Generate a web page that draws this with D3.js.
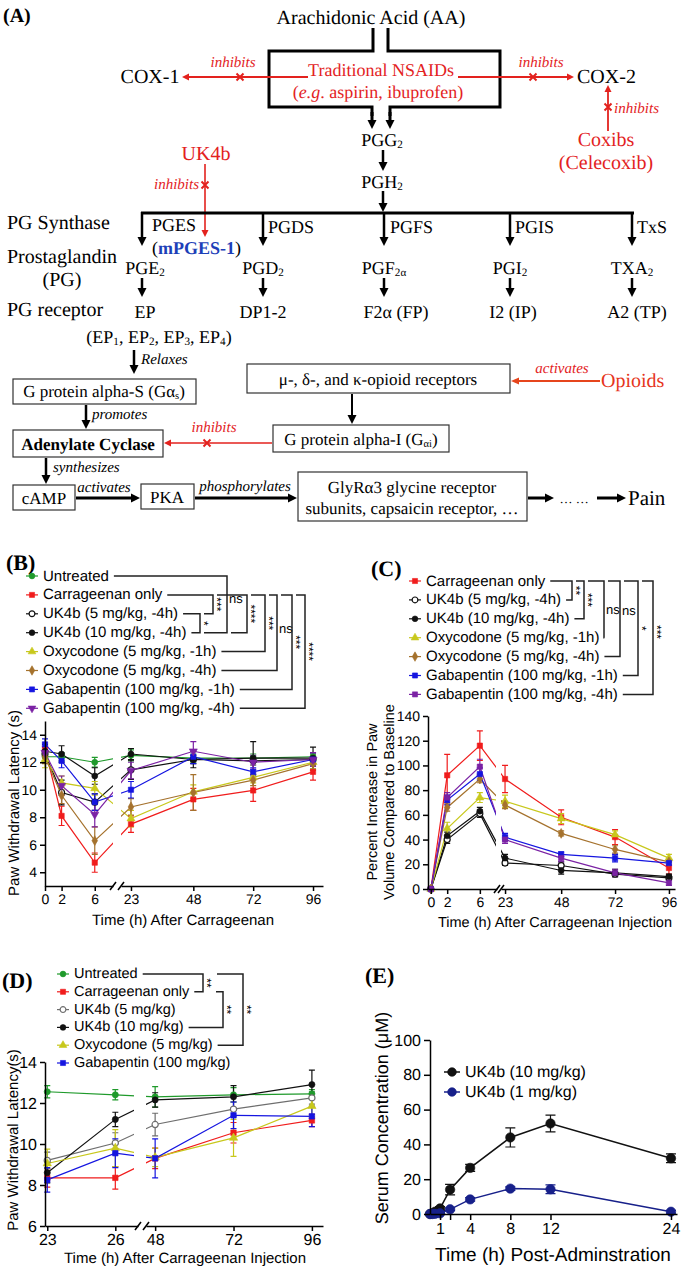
<!DOCTYPE html>
<html>
<head>
<meta charset="utf-8">
<script src="https://cdn.jsdelivr.net/npm/d3@7"></script>
<style>
  body { margin: 0; background: #fff; }
  text { text-rendering: geometricPrecision; }
</style>
</head>
<body>
<svg id="fig" width="685" height="1271"></svg>
<script>
// ---------- data ----------
// (B) paw withdrawal latency, 0-96 h
const timesB = [0, 2, 6, 23, 48, 72, 96];
const xTicksB1 = [0, 2, 6];
const xTicksB2 = [23, 48, 72, 96];
const yTicksB = [4, 6, 8, 10, 12, 14];
const namesB = ["Untreated", "Carrageenan only", "UK4b (5 mg/kg, -4h)", "UK4b (10 mg/kg, -4h)",
  "Oxycodone (5 mg/kg, -1h)", "Oxycodone (5 mg/kg, -4h)", "Gabapentin (100 mg/kg, -1h)", "Gabapentin (100 mg/kg, -4h)"];
const untreatedB = [12.4, 12.4, 12.0, 12.5, 12.3, 12.3, 12.4];
const carrB = [13.0, 8.1, 4.7, 7.5, 9.3, 9.95, 11.3];
const uk5B = [12.6, 9.8, 9.1, 11.45, 12.2, 12.1, 12.2];
const uk10B = [12.8, 12.6, 11.0, 12.6, 12.2, 12.3, 12.3];
const oxy1B = [12.2, 10.5, 10.1, 7.9, 9.85, 10.9, 12.0];
const oxy4B = [12.4, 9.6, 6.3, 8.75, 9.8, 10.7, 11.9];
const gaba1B = [13.3, 12.1, 9.1, 10.0, 12.4, 11.3, 12.2];
const gaba4B = [12.7, 10.3, 8.2, 11.4, 12.8, 12.0, 12.2];
const errB = [
  [0.3, 0.3, 0.35, 0.4, 0.3, 0.3, 0.3],
  [0.4, 0.7, 0.7, 0.6, 0.8, 0.8, 0.6],
  [0.5, 0.9, 0.6, 0.7, 0.3, 0.3, 0.4],
  [0.5, 0.6, 0.6, 0.4, 0.6, 1.2, 0.8],
  [0.6, 0.5, 0.5, 0.6, 0.5, 0.4, 0.5],
  [0.5, 0.6, 1.0, 0.6, 1.3, 0.4, 0.5],
  [0.4, 0.5, 0.6, 0.6, 0.5, 0.3, 0.5],
  [0.4, 0.7, 0.9, 0.6, 0.7, 0.5, 0.5]
];

// (C) percent increase in paw volume
const timesC = [0, 2, 6, 23, 48, 72, 96];
const xTicksC1 = [0, 2, 6];
const xTicksC2 = [23, 48, 72, 96];
const yTicksC = [0, 20, 40, 60, 80, 100, 120, 140];
const namesC = ["Carrageenan only", "UK4b (5 mg/kg, -4h)", "UK4b (10 mg/kg, -4h)", "Oxycodone (5 mg/kg, -1h)",
  "Oxycodone (5 mg/kg, -4h)", "Gabapentin (100 mg/kg, -1h)", "Gabapentin (100 mg/kg, -4h)"];
const carrC = [0, 92, 116, 89, 58, 42, 17];
const uk5C = [0, 40, 61, 21, 19, 12, 9];
const uk10C = [0, 43, 63, 25, 15, 13, 10];
const oxy1C = [0, 49, 74, 71, 57, 44, 25];
const oxy4C = [0, 66, 89, 68, 45, 32, 22];
const gaba1C = [0, 72, 93, 42, 28, 25, 21];
const gaba4C = [0, 74, 99, 40, 25, 13, 5];
const errC = [
  [0, 17, 12, 11, 6, 6, 5],
  [0, 3, 3, 2, 3, 2, 2],
  [0, 3, 3, 3, 3, 3, 2],
  [0, 5, 4, 5, 4, 3, 3],
  [0, 3, 3, 3, 2, 3, 2],
  [0, 4, 5, 3, 2, 3, 2],
  [0, 4, 6, 3, 3, 3, 2]
];

// (D) paw withdrawal latency, 23-96 h
const timesD = [23, 26, 48, 72, 96];
const xTicksD1 = [23, 26];
const xTicksD2 = [48, 72, 96];
const yTicksD = [6, 8, 10, 12, 14];
const namesD = ["Untreated", "Carrageenan only", "UK4b (5 mg/kg)", "UK4b (10 mg/kg)", "Oxycodone (5 mg/kg)", "Gabapentin (100 mg/kg)"];
const untreatedD = [12.55, 12.4, 12.3, 12.4, 12.45];
const carrD = [8.35, 8.35, 9.3, 10.55, 11.15];
const uk5D = [9.2, 10.05, 10.95, 11.7, 12.25];
const uk10D = [8.6, 11.2, 12.15, 12.3, 12.9];
const oxyD = [9.05, 9.8, 9.35, 10.3, 11.85];
const gabaD = [8.25, 9.55, 9.3, 11.4, 11.35];
const errD = [
  [0.3, 0.25, 0.5, 0.35, 0.2],
  [0.45, 0.55, 0.5, 0.5, 0.3],
  [0.4, 0.5, 0.55, 0.35, 0.3],
  [0.5, 0.35, 0.35, 0.55, 0.7],
  [0.7, 0.9, 0.45, 0.9, 0.5],
  [0.6, 0.7, 0.95, 0.65, 0.5]
];

// (E) serum concentration
const timesE = [0, 0.25, 0.5, 1, 2, 4, 8, 12, 24];
const xTicksE = [1, 2, 4, 8, 12, 24];
const xLabelsE = [1, 4, 8, 12, 24];
const yTicksE = [0, 20, 40, 60, 80, 100];
const namesE = ["UK4b (10 mg/kg)", "UK4b (1 mg/kg)"];
const uk10E = [0, 0.4, 1.3, 3.2, 14, 26.5, 44, 52, 32];
const uk1E = [0, 0, 0.1, 0.4, 2.7, 8.4, 14.6, 14.2, 1.3];
const errE = [
  [0, 0.3, 0.5, 1, 3, 2, 5.5, 4.8, 2.5],
  [0, 0, 0.2, 0.3, 0.8, 1, 1, 2.5, 0.8]
];

// ---------- helpers ----------
const SERIF = "'Liberation Serif', 'Times New Roman', serif";
const SANS = "'Liberation Sans', Arial, Helvetica, sans-serif";
const RED = "#e3221e";
const svg = d3.select("#fig");

// text with optional subscript / italic / bold pieces
function rich(g, x, y, parts, o = {}) {
  const size = o.size || 18;
  const t = g.append("text")
    .attr("x", x).attr("y", y)
    .attr("text-anchor", o.anchor || "middle")
    .attr("dominant-baseline", "central")
    .attr("font-family", o.family || SERIF)
    .attr("font-size", size)
    .attr("fill", o.fill || "#000");
  if (o.weight) t.attr("font-weight", o.weight);
  if (o.italic) t.attr("font-style", "italic");
  let shift = 0;
  parts.forEach(p => {
    if (typeof p === "string") p = { t: p };
    const s = t.append("tspan").text(p.t);
    const target = p.sub ? 0.3 * size : 0;
    if (target !== shift) { s.attr("dy", target - shift); shift = target; }
    if (p.sub) s.attr("font-size", 0.62 * size);
    if (p.italic) s.attr("font-style", "italic");
    if (p.bold) s.attr("font-weight", "bold");
    if (p.fill) s.attr("fill", p.fill);
  });
  return t;
}

function arrow(g, x1, y1, x2, y2, o = {}) {
  const c = o.color || "#000", w = o.width || 2.5, hl = o.head || 9, hw = o.hw || 4.5;
  const dx = x2 - x1, dy = y2 - y1, L = Math.hypot(dx, dy), ux = dx / L, uy = dy / L;
  const bx = x2 - ux * hl, by = y2 - uy * hl;
  g.append("line").attr("x1", x1).attr("y1", y1).attr("x2", bx + ux).attr("y2", by + uy)
    .attr("stroke", c).attr("stroke-width", w);
  g.append("path")
    .attr("d", `M${x2},${y2}L${bx - uy * hw},${by + ux * hw}L${bx + uy * hw},${by - ux * hw}Z`)
    .attr("fill", c);
}

function xmark(g, x, y, c = RED) {
  const r = 3.5;
  g.append("path").attr("d", `M${x - r},${y - r}L${x + r},${y + r}M${x - r},${y + r}L${x + r},${y - r}`)
    .attr("stroke", c).attr("stroke-width", 2);
}

function box(g, x, y, w, h) {
  g.append("rect").attr("x", x).attr("y", y).attr("width", w).attr("height", h)
    .attr("fill", "none").attr("stroke", "#333").attr("stroke-width", 1.2);
}

// ---------- (A) pathway diagram ----------
const A = svg.append("g");
rich(A, 3, 16, ["(A)"], { anchor: "start", size: 20, weight: "bold" });
rich(A, 371, 18, ["Arachidonic Acid (AA)"], { size: 20 });

A.append("path").attr("d", "M373,28V51H269V107H372V116").attr("fill", "none").attr("stroke", "#000").attr("stroke-width", 3);
A.append("path").attr("d", "M388,28V51H500V107H390V116").attr("fill", "none").attr("stroke", "#000").attr("stroke-width", 3);
arrow(A, 372, 112, 372, 129, { width: 3 });
arrow(A, 390, 112, 390, 129, { width: 3 });

rich(A, 381, 70, ["Traditional NSAIDs"], { size: 18, fill: RED });
rich(A, 378, 92, ["(", { t: "e.g", italic: true }, ". aspirin, ibuprofen)"], { size: 18, fill: RED });

arrow(A, 308, 77, 182, 77, { color: RED, width: 1.8, head: 7, hw: 3.5 });
xmark(A, 240, 77);
rich(A, 233, 63, ["inhibits"], { size: 15, italic: true, fill: RED });
rich(A, 150, 77, ["COX-1"], { size: 20 });

arrow(A, 458, 77, 574, 77, { color: RED, width: 1.8, head: 7, hw: 3.5 });
xmark(A, 533, 77);
rich(A, 541, 63, ["inhibits"], { size: 15, italic: true, fill: RED });
rich(A, 577, 77, ["COX-2"], { size: 20, anchor: "start" });

arrow(A, 608, 131, 608, 85, { color: RED, width: 1.8, head: 7, hw: 3.5 });
xmark(A, 608, 107);
rich(A, 614, 109, ["inhibits"], { size: 15, italic: true, fill: RED, anchor: "start" });
rich(A, 606, 140, ["Coxibs"], { size: 20, fill: RED });
rich(A, 606, 163, ["(Celecoxib)"], { size: 20, fill: RED });

rich(A, 382, 140, ["PGG", { t: "2", sub: true }], { size: 18 });
arrow(A, 383, 150, 383, 171, { width: 2.5 });
rich(A, 382, 182, ["PGH", { t: "2", sub: true }], { size: 18 });
arrow(A, 383, 191, 383, 212, { width: 2.5 });

rich(A, 206, 154, ["UK4b"], { size: 20, fill: RED });
arrow(A, 205, 164, 205, 237, { color: RED, width: 1.6, head: 7, hw: 3.5 });
xmark(A, 205, 185);
rich(A, 199, 185, ["inhibits"], { size: 15, italic: true, fill: RED, anchor: "end" });

A.append("line").attr("x1", 141).attr("x2", 634).attr("y1", 213).attr("y2", 213).attr("stroke", "#000").attr("stroke-width", 3);
const branchX = [142, 263, 384, 510, 632];
branchX.forEach(bx => arrow(A, bx, 212, bx, 246, { width: 2.5 }));
[["PGES", 152, 225], ["PGDS", 268, 227], ["PGFS", 390, 227], ["PGIS", 515, 227], ["TxS", 637, 227]]
  .forEach(d => rich(A, d[1], d[2], [d[0]], { size: 18, anchor: "start" }));
rich(A, 7, 223, ["PG Synthase"], { size: 20, anchor: "start" });
rich(A, 152, 248, ["(", { t: "mPGES-1", bold: true, fill: "#1d3fb8" }, ")"], { size: 18, anchor: "start" });

rich(A, 7, 257, ["Prostaglandin"], { size: 20, anchor: "start" });
rich(A, 62, 280, ["(PG)"], { size: 20 });
rich(A, 145, 268, ["PGE", { t: "2", sub: true }], { size: 18 });
rich(A, 263, 268, ["PGD", { t: "2", sub: true }], { size: 18 });
rich(A, 384, 268, ["PGF", { t: "2α", sub: true }], { size: 18 });
rich(A, 510, 268, ["PGI", { t: "2", sub: true }], { size: 18 });
rich(A, 632, 268, ["TXA", { t: "2", sub: true }], { size: 18 });
branchX.forEach(bx => arrow(A, bx, 278, bx, 297, { width: 2.5 }));

rich(A, 7, 310, ["PG receptor"], { size: 20, anchor: "start" });
[["EP", 145], ["DP1-2", 263], ["F2α (FP)", 396], ["I2 (IP)", 513], ["A2 (TP)", 637]]
  .forEach(d => rich(A, d[1], 312, [d[0]], { size: 18 }));
rich(A, 159, 337, ["(EP", { t: "1", sub: true }, ", EP", { t: "2", sub: true }, ", EP", { t: "3", sub: true }, ", EP", { t: "4", sub: true }, ")"], { size: 18 });

arrow(A, 134, 350, 134, 374, { width: 2.5 });
rich(A, 141, 360, ["Relaxes"], { size: 15, italic: true, anchor: "start" });
box(A, 13, 379, 183, 25);
rich(A, 104, 391, ["G protein alpha-S (Gα", { t: "s", sub: true }, ")"], { size: 17 });

box(A, 247, 364, 263, 29);
rich(A, 378, 379, ["μ-, δ-, and κ-opioid receptors"], { size: 17 });
arrow(A, 600, 381, 511, 381, { color: "#e6451c", width: 1.8, head: 8, hw: 3.5 });
rich(A, 562, 369, ["activates"], { size: 15, italic: true, fill: RED });
rich(A, 601, 381, ["Opioids"], { size: 20, fill: "#e6351c", anchor: "start" });

arrow(A, 86, 405, 86, 429, { width: 2.5 });
rich(A, 92, 415, ["promotes"], { size: 15, italic: true, anchor: "start" });
box(A, 13, 430, 150, 27);
rich(A, 88, 444, ["Adenylate Cyclase"], { size: 17, weight: "bold" });

arrow(A, 352, 394, 352, 424, { width: 2 });
box(A, 273, 425, 176, 27);
rich(A, 361, 439, ["G protein alpha-I (G", { t: "αi", sub: true }, ")"], { size: 17 });
arrow(A, 272, 443, 164, 443, { color: RED, width: 1.6, head: 7, hw: 3.5 });
xmark(A, 207, 443);
rich(A, 214, 428, ["inhibits"], { size: 15, italic: true, fill: RED });

arrow(A, 46, 458, 46, 484, { width: 2.5 });
rich(A, 53, 468, ["synthesizes"], { size: 15, italic: true, anchor: "start" });
box(A, 13, 485, 62, 25);
rich(A, 44, 498, ["cAMP"], { size: 17 });
arrow(A, 76, 498, 140, 498, { width: 3 });
rich(A, 104, 488, ["activates"], { size: 15, italic: true });
box(A, 141, 484, 53, 25);
rich(A, 167, 497, ["PKA"], { size: 17 });
arrow(A, 195, 498, 297, 498, { width: 3 });
rich(A, 245, 487, ["phosphorylates"], { size: 15, italic: true });
box(A, 298, 472, 229, 49);
rich(A, 412, 487, ["GlyRα3 glycine receptor"], { size: 17 });
rich(A, 412, 508, ["subunits, capsaicin receptor, …"], { size: 17 });
arrow(A, 528, 498, 554, 498, { width: 3 });
rich(A, 574, 498, ["… …"], { size: 13 });
arrow(A, 597, 498, 626, 498, { width: 3 });
rich(A, 628, 498, ["Pain"], { size: 21, anchor: "start" });

// ---------- chart helpers ----------
const GREEN = "#1f9a2b", CRED = "#f01c1c", BLK = "#111", YEL = "#c8c81c", BROWN = "#a5722d",
  BLUE = "#1515e0", PURPLE = "#7b22a4", GRAY = "#6e6e6e", NAVY = "#17208a";

const SYM = {
  circle: d3.symbolCircle, square: d3.symbolSquare, triangle: d3.symbolTriangle,
  diamond: d3.symbolDiamond, down: d3.symbolTriangle
};

function drawLines(g, series, times, x, y, lw) {
  series.forEach(s => {
    g.append("path")
      .datum(times.map((t, i) => [t, s.values[i]]))
      .attr("d", d3.line().x(d => x(d[0])).y(d => y(d[1])))
      .attr("fill", "none").attr("stroke", s.line || s.color).attr("stroke-width", lw);
  });
}

function drawPoints(g, series, times, x, y, size, cap) {
  series.forEach(s => {
    times.forEach((t, i) => {
      const e = s.err ? s.err[i] : 0;
      if (e > 0) {
        const cx = x(t), y0 = y(s.values[i] - e), y1 = y(s.values[i] + e);
        g.append("path")
          .attr("d", `M${cx},${y0}V${y1}M${cx - cap},${y0}H${cx + cap}M${cx - cap},${y1}H${cx + cap}`)
          .attr("stroke", s.color).attr("stroke-width", 1.2).attr("fill", "none");
      }
    });
  });
  series.forEach(s => {
    times.forEach((t, i) => marker(g, x(t), y(s.values[i]), s, size));
  });
}

function marker(g, cx, cy, s, size) {
  g.append("path")
    .attr("d", d3.symbol().type(SYM[s.sym]).size(size)())
    .attr("transform", `translate(${cx},${cy})` + (s.sym === "down" ? " rotate(180)" : ""))
    .attr("fill", s.open ? "#fff" : s.color)
    .attr("stroke", s.color).attr("stroke-width", s.open ? 1.2 : 0.6);
}

function styleAxis(a, fs) {
  a.select(".domain").attr("stroke", "#000").attr("stroke-width", 1.5);
  a.selectAll(".tick line").attr("stroke", "#000").attr("stroke-width", 1.5);
  a.selectAll("text").attr("font-family", SANS).attr("font-size", fs).attr("fill", "#000");
}

function brokenPlot(o) {
  const g = svg.append("g");
  const s1 = d3.scaleLinear().domain(o.x1dom).range(o.x1rng);
  const s2 = d3.scaleLinear().domain(o.x2dom).range(o.x2rng);
  const x = t => (t <= o.x1dom[1] ? s1(t) : s2(t));
  const y = d3.scaleLinear().domain(o.ydom).range(o.yrng);

  drawLines(g, o.series, o.times, x, y, 1.2);
  // gap in the lines over the axis break
  g.append("rect").attr("x", o.gap[0]).attr("width", o.gap[1] - o.gap[0])
    .attr("y", o.yrng[1]).attr("height", o.yrng[0] - o.yrng[1] - 1).attr("fill", "#fff");
  drawPoints(g, o.series, o.times, x, y, o.msize || 28, 3);

  const fmt = d3.format("d");
  const ya = g.append("g").attr("transform", `translate(${o.x1rng[0]},0)`)
    .call(d3.axisLeft(y).tickValues(o.yticks).tickFormat(fmt).tickSize(5).tickSizeOuter(0).tickPadding(3));
  const xa1 = g.append("g").attr("transform", `translate(0,${o.yrng[0]})`)
    .call(d3.axisBottom(s1).tickValues(o.xt1).tickFormat(fmt).tickSize(5).tickSizeOuter(0).tickPadding(3));
  const xa2 = g.append("g").attr("transform", `translate(0,${o.yrng[0]})`)
    .call(d3.axisBottom(s2).tickValues(o.xt2).tickFormat(fmt).tickSize(5).tickSizeOuter(0).tickPadding(3));
  [ya, xa1, xa2].forEach(a => styleAxis(a, o.fs));
  [o.x1rng[1], o.x2rng[0]].forEach(bx => {
    g.append("line").attr("x1", bx - 3).attr("y1", o.yrng[0] + 4).attr("x2", bx + 3).attr("y2", o.yrng[0] - 4)
      .attr("stroke", "#000").attr("stroke-width", 1.5);
  });

  g.append("text").attr("x", o.xlab[0]).attr("y", o.xlab[1]).attr("text-anchor", "middle")
    .attr("dominant-baseline", "central").attr("font-family", SANS).attr("font-size", o.labfs)
    .text(o.xlab[2]);
  o.ylab.forEach(l => {
    g.append("text").attr("transform", `translate(${l[0]},${l[1]}) rotate(-90)`)
      .attr("text-anchor", "middle").attr("dominant-baseline", "central")
      .attr("font-family", SANS).attr("font-size", o.labfs).text(l[2]);
  });
  return g;
}

function legend(g, mx, y0, dy, series, fs, msize) {
  const ends = [];
  series.forEach((s, i) => {
    const yy = y0 + i * dy;
    g.append("line").attr("x1", mx - 6).attr("x2", mx + 6).attr("y1", yy).attr("y2", yy)
      .attr("stroke", s.line || s.color).attr("stroke-width", 1.2);
    marker(g, mx, yy, s, msize);
    const t = g.append("text").attr("x", mx + 11).attr("y", yy).attr("dominant-baseline", "central")
      .attr("font-family", SANS).attr("font-size", fs).attr("fill", "#000").text(s.name);
    ends.push(mx + 11 + t.node().getComputedTextLength());
  });
  return ends;
}

function brackets(g, rowsY, ends, list) {
  const startFor = (row, bx) => {
    const prev = list.filter(b => (b.a === row || b.b === row) && b.x < bx).map(b => b.x);
    return prev.length ? d3.max(prev) + 4 : ends[row] + 5;
  };
  list.forEach(b => {
    const ya = rowsY[b.a], yb = rowsY[b.b];
    const sa = b.sa != null ? b.sa : startFor(b.a, b.x);
    const sb = b.sb != null ? b.sb : startFor(b.b, b.x);
    g.append("path").attr("d", `M${sa},${ya}H${b.x}V${yb}H${sb}`)
      .attr("fill", "none").attr("stroke", "#222").attr("stroke-width", 1.5);
    const ly = b.ly != null ? b.ly : (ya + yb) / 2;
    if (b.label[0] === "*") {
      g.append("text").attr("transform", `translate(${b.x + 4},${ly}) rotate(90)`)
        .attr("text-anchor", "middle").attr("dominant-baseline", "central")
        .attr("font-family", SANS).attr("font-size", 12).attr("fill", "#000").text(b.label);
    } else {
      g.append("text").attr("x", b.x + 2).attr("y", ly).attr("dominant-baseline", "central")
        .attr("font-family", SANS).attr("font-size", 13).attr("fill", "#000").text(b.label);
    }
  });
}

function panelTag(x, y, s) {
  rich(svg, x, y, [s], { anchor: "start", size: 22, weight: "bold" });
}

// ---------- (B) ----------
const seriesB = [
  { name: namesB[0], values: untreatedB, err: errB[0], color: GREEN, sym: "circle" },
  { name: namesB[1], values: carrB, err: errB[1], color: CRED, sym: "square" },
  { name: namesB[2], values: uk5B, err: errB[2], color: BLK, sym: "circle", open: true },
  { name: namesB[3], values: uk10B, err: errB[3], color: BLK, sym: "circle" },
  { name: namesB[4], values: oxy1B, err: errB[4], color: YEL, sym: "triangle" },
  { name: namesB[5], values: oxy4B, err: errB[5], color: BROWN, sym: "diamond" },
  { name: namesB[6], values: gaba1B, err: errB[6], color: BLUE, sym: "square" },
  { name: namesB[7], values: gaba4B, err: errB[7], color: PURPLE, sym: "down" }
];
panelTag(6, 562, "(B)");
brokenPlot({
  series: seriesB, times: timesB,
  x1dom: [0, 8.2], x1rng: [45, 113], x2dom: [19, 100], x2rng: [121, 323], gap: [113, 121],
  ydom: [3, 15], yrng: [886, 721], yticks: yTicksB, xt1: xTicksB1, xt2: xTicksB2, fs: 14,
  xlab: [183, 920, "Time (h) After Carrageenan"], ylab: [[14, 803, "Paw Withdrawal Latency (s)"]], labfs: 15
});
const gB = svg.append("g");
const rowsB = namesB.map((_, i) => 576 + i * 18.9);
const endsB = legend(gB, 32, 576, 18.9, seriesB, 15, 26);
brackets(gB, rowsB, endsB, [
  { a: 1, b: 2, x: 213, label: "***" },
  { a: 2, b: 3, x: 200, label: "*" },
  { a: 0, b: 3, x: 227, label: "ns", ly: 598 },
  { a: 1, b: 3, x: 247, label: "****" },
  { a: 1, b: 4, x: 265, label: "***" },
  { a: 1, b: 5, x: 277, label: "ns", ly: 628 },
  { a: 1, b: 6, x: 292, label: "***" },
  { a: 1, b: 7, x: 305, label: "****" }
]);

// ---------- (C) ----------
const seriesC = [
  { name: namesC[0], values: carrC, err: errC[0], color: CRED, sym: "square" },
  { name: namesC[1], values: uk5C, err: errC[1], color: BLK, sym: "circle", open: true },
  { name: namesC[2], values: uk10C, err: errC[2], color: BLK, sym: "circle" },
  { name: namesC[3], values: oxy1C, err: errC[3], color: YEL, sym: "triangle" },
  { name: namesC[4], values: oxy4C, err: errC[4], color: BROWN, sym: "diamond" },
  { name: namesC[5], values: gaba1C, err: errC[5], color: BLUE, sym: "square" },
  { name: namesC[6], values: gaba4C, err: errC[6], color: PURPLE, sym: "square" }
];
panelTag(371, 568, "(C)");
brokenPlot({
  series: seriesC, times: timesC,
  x1dom: [-0.35, 8.1], x1rng: [428, 497], x2dom: [21.2, 98.7], x2rng: [501, 675], gap: [496, 501],
  ydom: [0, 140], yrng: [889, 716], yticks: yTicksC, xt1: xTicksC1, xt2: xTicksC2, fs: 14,
  xlab: [555, 923, "Time (h) After Carrageenan Injection"],
  ylab: [[373, 802, "Percent Increase in Paw"], [390, 802, "Volume Compared to Baseline"]], labfs: 14.5
});
const gC = svg.append("g");
const rowsC = namesC.map((_, i) => 581 + i * 18.9);
const endsC = legend(gC, 415, 581, 18.9, seriesC, 15, 26);
brackets(gC, rowsC, endsC, [
  { a: 0, b: 1, x: 572, label: "**" },
  { a: 0, b: 2, x: 584, label: "***" },
  { a: 0, b: 3, x: 604, label: "ns" },
  { a: 0, b: 4, x: 620, label: "ns", ly: 610 },
  { a: 0, b: 5, x: 638, label: "*" },
  { a: 0, b: 6, x: 653, label: "***", ly: 632 }
]);

// ---------- (D) ----------
const seriesD = [
  { name: namesD[0], values: untreatedD, err: errD[0], color: GREEN, sym: "circle" },
  { name: namesD[1], values: carrD, err: errD[1], color: CRED, sym: "square" },
  { name: namesD[2], values: uk5D, err: errD[2], color: GRAY, sym: "circle", open: true },
  { name: namesD[3], values: uk10D, err: errD[3], color: BLK, sym: "circle" },
  { name: namesD[4], values: oxyD, err: errD[4], color: YEL, sym: "triangle" },
  { name: namesD[5], values: gabaD, err: errD[5], color: BLUE, sym: "square" }
];
panelTag(2, 980, "(D)");
brokenPlot({
  series: seriesD, times: timesD,
  x1dom: [22.9, 27], x1rng: [45, 138], x2dom: [45.2, 99.4], x2rng: [146, 323], gap: [134, 146],
  ydom: [6, 14], yrng: [1226, 1062], yticks: yTicksD, xt1: xTicksD1, xt2: xTicksD2, fs: 16, msize: 30,
  xlab: [185, 1258, "Time (h) After Carrageenan Injection"], ylab: [[13, 1140, "Paw Withdrawal Latency(s)"]], labfs: 15
});
const gD = svg.append("g");
const rowsD = namesD.map((_, i) => 974 + i * 17.8);
const endsD = legend(gD, 63, 974, 17.8, seriesD, 14.5, 26);
brackets(gD, rowsD, endsD, [
  { a: 0, b: 1, x: 203, label: "**" },
  { a: 1, b: 3, x: 223, label: "**", sa: 216 },
  { a: 0, b: 4, x: 243, label: "**", sa: 217 }
]);

// ---------- (E) ----------
const seriesE = [
  { name: namesE[0], values: uk10E, err: errE[0], color: BLK, sym: "circle" },
  { name: namesE[1], values: uk1E, err: errE[1], color: NAVY, sym: "circle" }
];
panelTag(365, 975, "(E)");
const gE = svg.append("g");
const xE = d3.scaleLinear().domain([0, 24.6]).range([430, 677]);
const yE = d3.scaleLinear().domain([0, 100]).range([1214, 1040]);
drawLines(gE, seriesE, timesE, xE, yE, 1.5);
drawPoints(gE, seriesE, timesE, xE, yE, 70, 5);
const yaE = gE.append("g").attr("transform", "translate(430,0)")
  .call(d3.axisLeft(yE).tickValues(yTicksE).tickSize(6).tickSizeOuter(0).tickPadding(3));
const xaE = gE.append("g").attr("transform", "translate(0,1214)")
  .call(d3.axisBottom(xE).tickValues(xTicksE).tickSize(6).tickSizeOuter(0).tickPadding(3)
    .tickFormat(d => (xLabelsE.includes(d) ? d : "")));
styleAxis(yaE, 16);
styleAxis(xaE, 16);
gE.append("text").attr("x", 553).attr("y", 1255).attr("text-anchor", "middle").attr("dominant-baseline", "central")
  .attr("font-family", SANS).attr("font-size", 19).text("Time (h) Post-Adminstration");
gE.append("text").attr("transform", "translate(382,1118) rotate(-90)").attr("text-anchor", "middle")
  .attr("dominant-baseline", "central").attr("font-family", SANS).attr("font-size", 18)
  .text("Serum Concentration (μM)");
seriesE.forEach((s, i) => {
  const yy = 1072 + i * 20;
  gE.append("line").attr("x1", 444).attr("x2", 460).attr("y1", yy).attr("y2", yy)
    .attr("stroke", s.color).attr("stroke-width", 1.5);
  marker(gE, 452, yy, s, 60);
  gE.append("text").attr("x", 465).attr("y", yy).attr("dominant-baseline", "central")
    .attr("font-family", SANS).attr("font-size", 16).text(s.name);
});
</script>
</body>
</html>
